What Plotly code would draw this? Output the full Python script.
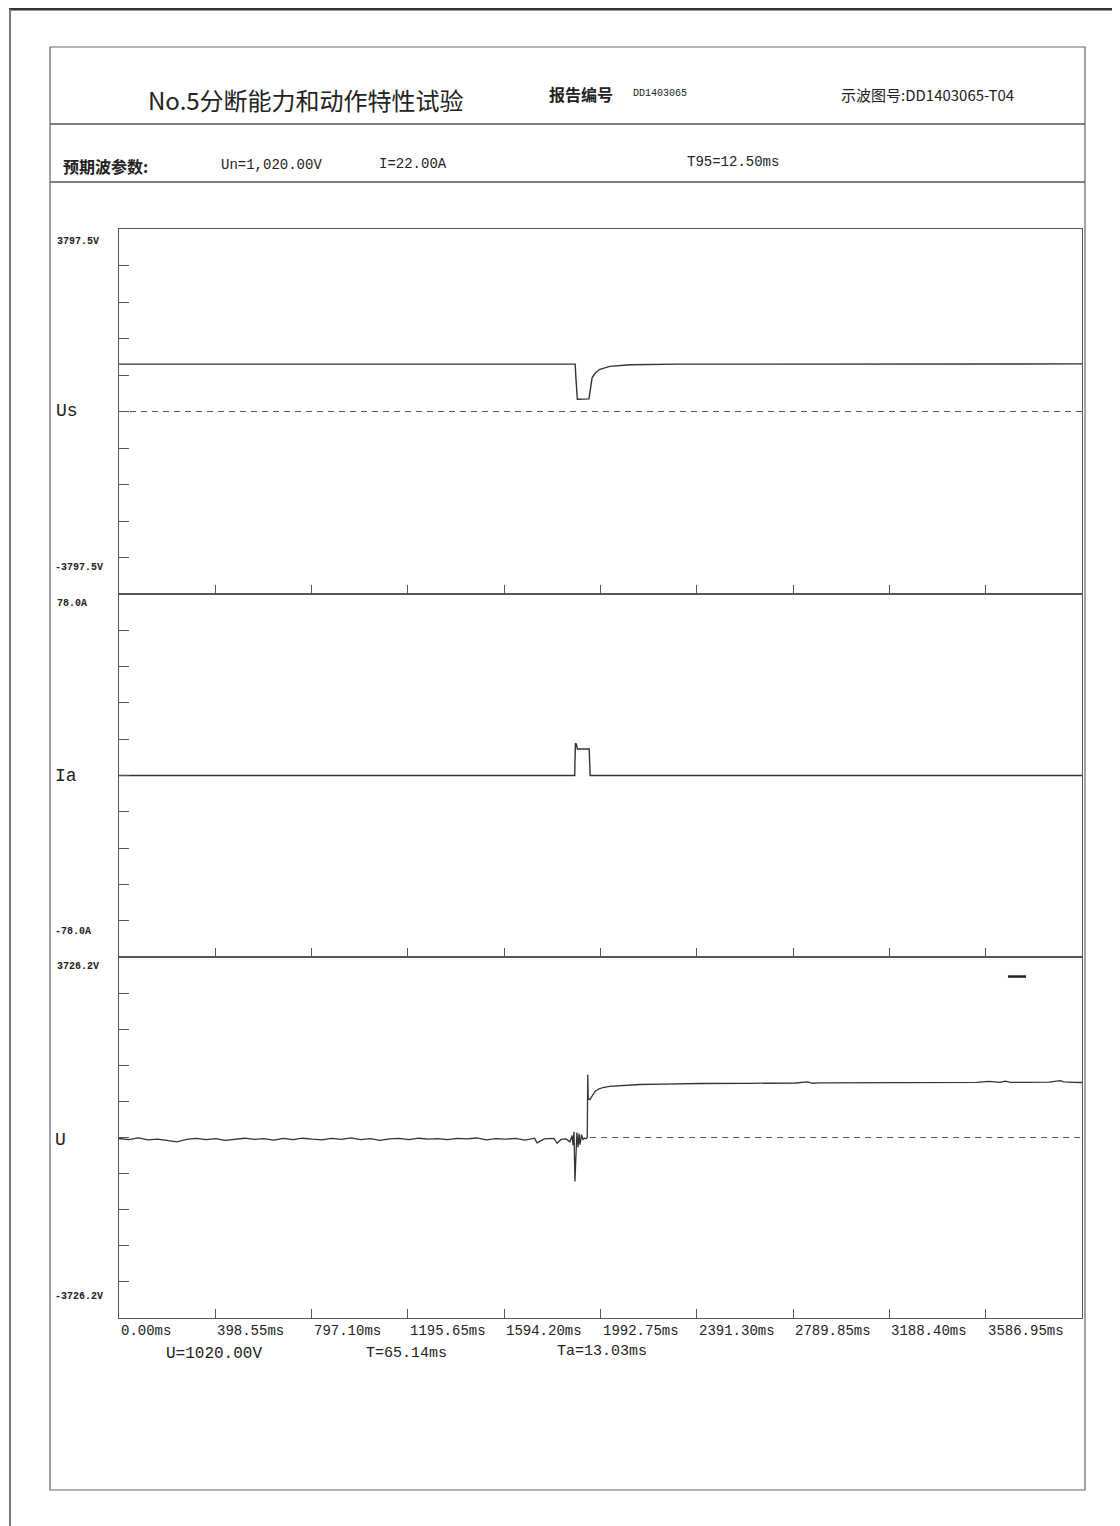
import plotly.graph_objects as go

# ---------------- data ----------------
T_MAX = 3985.5
X_TICKS = [0, 398.55, 797.10, 1195.65, 1594.20, 1992.75, 2391.30, 2789.85, 3188.40, 3586.95]
X_TICK_LABELS = ["0.00ms", "398.55ms", "797.10ms", "1195.65ms", "1594.20ms",
                 "1992.75ms", "2391.30ms", "2789.85ms", "3188.40ms", "3586.95ms"]

US_RANGE = 3797.5
IA_RANGE = 78.0
U_RANGE = 3726.2
Y_TICK_FRACTIONS = [-0.8, -0.6, -0.4, -0.2, 0.0, 0.2, 0.4, 0.6, 0.8]

# Us channel (V)
us_t = [0, 1888, 1891, 1894, 1897, 1945, 1949, 1952, 1958, 1970, 1990, 2032, 2115, 2320, 3985.5]
us_v = [985, 985, 700, 300, 255, 262, 400, 600, 700, 795, 879, 940, 972, 985, 990]

# Ia channel (A)
ia_t = [0, 1886, 1887, 1889, 1893, 1897, 1946, 1948, 1950, 3985.5]
ia_v = [0, 0, 6, 13.8, 13.5, 11.4, 11.4, 6, 0, 0]

# U channel (V)
u_t = [0, 40, 80, 120, 160, 200, 240, 280, 320, 360, 400, 440, 480, 520, 560, 600,
       640, 680, 720, 760, 800, 840, 880, 920, 960, 1000, 1040, 1080, 1120, 1160,
       1200, 1240, 1280, 1320, 1360, 1400, 1440, 1480, 1520, 1560, 1600, 1640, 1680,
       1720, 1730, 1760, 1800, 1813, 1830, 1850, 1866, 1875, 1879, 1883, 1887, 1891,
       1895, 1900, 1904, 1908, 1914, 1920, 1926, 1932, 1938, 1940, 1942, 1944, 1949,
       1960, 1970, 1985, 2003, 2030, 2074, 2156, 2250, 2405, 2600, 2800, 2850, 2870,
       2900, 3000, 3200, 3400, 3550, 3600, 3646, 3668, 3690, 3750, 3850, 3895, 3910,
       3950, 3985.5]
u_v = [-20, -45, -10, -50, -35, -70, -90, -40, -20, -45, -25, -60, -30, -15, -40, -25,
       -55, -20, -45, -15, -35, -50, -20, -40, -10, -45, -25, -60, -30, -20, -45, -15,
       -35, -25, -45, -20, -30, -10, -50, -25, -35, -20, -55, -15, -110, -30, -20,
       -120, -40, -30, -90, 40, -160, 120, -908, -250, 103, -200, 80, -150, 60, -40,
       -10, -30, 0, 1300, 784, 800, 784, 880, 950, 1000, 1032, 1055, 1073, 1094, 1100,
       1115, 1118, 1125, 1150, 1120, 1128, 1130, 1132, 1135, 1138, 1160, 1140, 1165,
       1138, 1140, 1145, 1175, 1150, 1138, 1135]

# zero reference lines (dashed)
us_zero_t = [0, T_MAX]
us_zero_v = [0, 0]
u_zero_t = [1950, T_MAX]
u_zero_v = [0, 0]

# short marker stroke on the U channel
u_mark_t = [3679, 3754]
u_mark_v = [3323, 3323]

# ---------------- layout helpers ----------------
W, H = 1120, 1526
OFF = 8  # the page body margin shifts the figure by 8 px


def px(x):
    return (x - OFF) / W


def py(y):
    return 1 - (y - OFF) / H


X_LEFT, X_RIGHT = 119, 1082
PANEL_EDGES = [229, 594, 957, 1318]

INK = "#333333"
FRAME = "#555555"
MONO = "Liberation Mono, DejaVu Sans Mono, monospace"
CJK = "Noto Sans CJK SC"

fig = go.Figure()

line_style = dict(color=INK, width=1.4)
fig.add_trace(go.Scatter(x=us_t, y=us_v, mode="lines", line=line_style, xaxis="x", yaxis="y"))
fig.add_trace(go.Scatter(x=us_zero_t, y=us_zero_v, mode="lines",
                         line=dict(color="#555555", width=1.1, dash="6px,5px"), xaxis="x", yaxis="y"))
fig.add_trace(go.Scatter(x=ia_t, y=ia_v, mode="lines", line=line_style, xaxis="x2", yaxis="y2"))
fig.add_trace(go.Scatter(x=u_t, y=u_v, mode="lines", line=dict(color=INK, width=1.3), xaxis="x3", yaxis="y3"))
fig.add_trace(go.Scatter(x=u_zero_t, y=u_zero_v, mode="lines",
                         line=dict(color="#555555", width=1.1, dash="6px,5px"), xaxis="x3", yaxis="y3"))
fig.add_trace(go.Scatter(x=u_mark_t, y=u_mark_v, mode="lines",
                         line=dict(color="#222222", width=2.5), xaxis="x3", yaxis="y3"))

axis_common = dict(showgrid=False, zeroline=False, showline=True, mirror=True,
                   linecolor=FRAME, linewidth=1.4, ticks="inside", tickcolor=FRAME,
                   tickwidth=1.2, showticklabels=False, fixedrange=True)

ranges = [US_RANGE, IA_RANGE, U_RANGE]
layout_axes = {}
for i in range(3):
    sfx = "" if i == 0 else str(i + 1)
    top, bottom = PANEL_EDGES[i], PANEL_EDGES[i + 1]
    layout_axes["xaxis" + sfx] = dict(axis_common, domain=[px(X_LEFT), px(X_RIGHT)],
                                      range=[0, T_MAX], tickvals=X_TICKS, ticklen=9,
                                      anchor="y" + sfx)
    layout_axes["yaxis" + sfx] = dict(axis_common, domain=[py(bottom), py(top)],
                                      range=[-ranges[i], ranges[i]],
                                      tickvals=[f * ranges[i] for f in Y_TICK_FRACTIONS],
                                      ticklen=10, anchor="x" + sfx)

fig.update_layout(**layout_axes)

ann = []


def text(x, y, s, size, family=MONO, xanchor="left", color="#222222", xref="paper"):
    ann.append(dict(x=x if xref != "paper" else px(x), y=py(y), xref=xref, yref="paper",
                    text=s, showarrow=False, xanchor=xanchor, yanchor="middle",
                    font=dict(size=size, family=family, color=color)))


# header
text(146, 100, "No.5分断能力和动作特性试验", 24, family=CJK)
text(547, 94, "<b>报告编号</b>", 16, family=CJK)
text(631, 93, "DD1403065", 10, family=MONO)
text(839, 94, "示波图号:DD1403065-T04", 15, family=CJK)
text(61, 166, "<b>预期波参数:</b>", 16, family=CJK)
text(219, 165, "Un=1,020.00V", 14)
text(377, 164, "I=22.00A", 14)
text(685, 162, "T95=12.50ms", 14)

# channel labels and scale values
text(55, 241, "<b>3797.5V</b>", 10)
text(53, 567, "<b>-3797.5V</b>", 10)
text(54, 411, "Us", 18)
text(55, 603, "<b>78.0A</b>", 10)
text(53, 931, "<b>-78.0A</b>", 10)
text(53, 776, "Ia", 18)
text(55, 966, "<b>3726.2V</b>", 10)
text(53, 1296, "<b>-3726.2V</b>", 10)
text(53, 1140, "U", 18)

# time tick labels (left-aligned at each tick)
for tv, tl in zip(X_TICKS, X_TICK_LABELS):
    text(tv, 1331, tl, 14, xref="x3")

text(164, 1354, "U=1020.00V", 16)
text(364, 1353, "T=65.14ms", 15)
text(555, 1351, "Ta=13.03ms", 15)

fig.update_layout(annotations=ann)

shapes = [
    # page edge
    dict(type="line", xref="paper", yref="paper", x0=px(9), x1=px(1112), y0=py(9), y1=py(9),
         line=dict(color="#333333", width=3)),
    dict(type="line", xref="paper", yref="paper", x0=px(10), x1=px(10), y0=py(9), y1=py(1534),
         line=dict(color="#777777", width=2)),
    # report frame
    dict(type="rect", xref="paper", yref="paper", x0=px(50), x1=px(1085), y0=py(1490), y1=py(47),
         line=dict(color="#666666", width=1.2)),
    dict(type="line", xref="paper", yref="paper", x0=px(50), x1=px(1085), y0=py(124), y1=py(124),
         line=dict(color="#555555", width=1.6)),
    dict(type="line", xref="paper", yref="paper", x0=px(50), x1=px(1085), y0=py(182), y1=py(182),
         line=dict(color="#555555", width=1.6)),
]
fig.update_layout(shapes=shapes)

fig.update_layout(width=W, height=H, autosize=False,
                  margin=dict(l=0, r=0, t=0, b=0, pad=0),
                  paper_bgcolor="white", plot_bgcolor="white", showlegend=False)

fig.write_html("out.html")
